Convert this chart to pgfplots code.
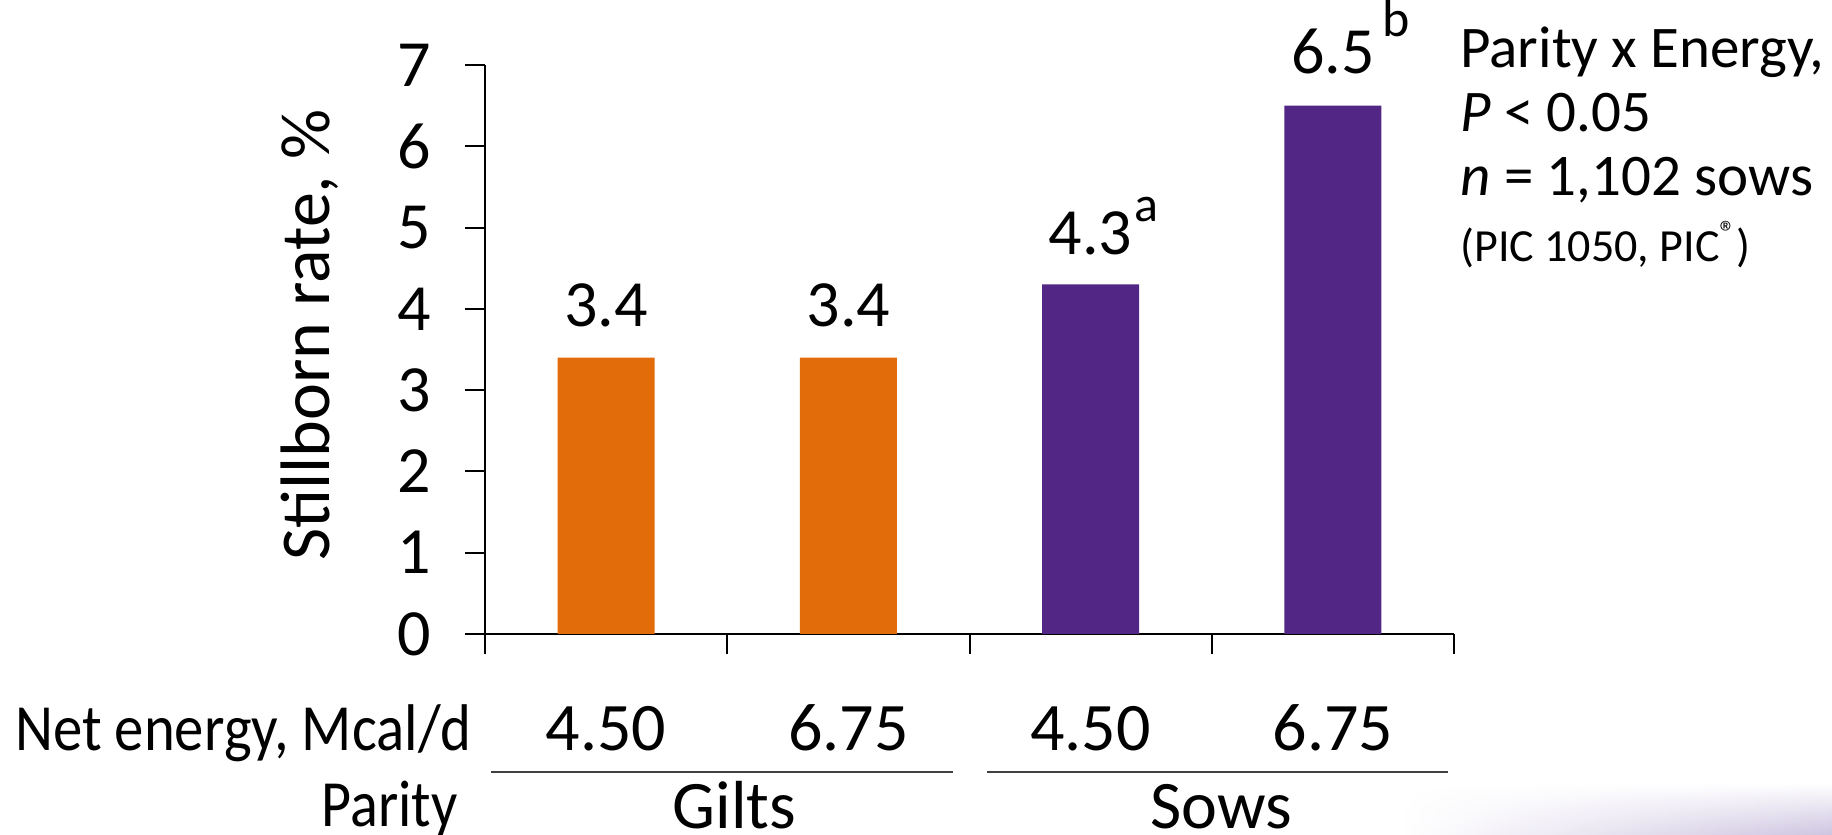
\documentclass[border=0pt]{standalone}
\usepackage{fontspec}
\setmainfont{Carlito}
\usepackage{pgfplots}
\pgfplotsset{compat=1.18}
\usetikzlibrary{fadings}
\definecolor{barorange}{RGB}{227,108,10}
\definecolor{barpurple}{RGB}{81,38,132}
\newcommand{\fs}[1]{\fontsize{#1}{#1}\selectfont}
\begin{document}
\begin{tikzpicture}
\useasboundingbox (0,0) rectangle (916pt,417.5pt);
% faint slide shading bottom right
\shade[left color=white, right color={rgb,255:red,205;green,196;blue,224}, path fading=north]
  (700pt,0pt) rectangle (916pt,26pt);
\begin{axis}[
  at={(242.5pt,100.5pt)}, anchor=south west,
  width=484.5pt, height=284.5pt, scale only axis,
  xmin=0, xmax=4, ymin=0, ymax=7,
  axis x line=bottom, axis y line=left,
  axis line style={-, line width=1pt, black},
  xtick={0,1,2,3,4}, xticklabels={},
  ytick={0,1,2,3,4,5,6,7},
  tick align=outside,
  major tick length=10pt,
  tick style={line width=1pt, black},
  /pgf/number format/assume math mode=true,
  yticklabel style={font=\fs{33}, anchor=east, inner sep=0pt, xshift=-17pt},
  ybar, bar width=48.5pt, bar shift=0pt,
  clip=false,
]
\addplot[fill=barorange, draw=none] coordinates {(0.5,3.4) (1.5,3.4)};
\addplot[fill=barpurple, draw=none] coordinates {(2.5,4.3) (3.5,6.5)};
% value labels
\node[anchor=base, font=\fs{33}, inner sep=0pt, yshift=15.5pt] at (axis cs:0.5,3.4) {3.4};
\node[anchor=base, font=\fs{33}, inner sep=0pt, yshift=15.5pt] at (axis cs:1.5,3.4) {3.4};
\node[anchor=base, font=\fs{33}, inner sep=0pt, yshift=15pt] at (axis cs:2.5,4.3) {4.3\rlap{\hspace{1pt}\raisebox{16.5pt}{\fs{25}a}}};
\node[anchor=base, font=\fs{33}, inner sep=0pt, yshift=16pt] at (axis cs:3.5,6.5) {6.5\rlap{\hspace{4pt}\raisebox{18.5pt}{\fs{26}b}}};
% category labels
\node[anchor=base, font=\fs{34}, inner sep=0pt, yshift=-58pt] at (axis cs:0.5,0) {4.50};
\node[anchor=base, font=\fs{34}, inner sep=0pt, yshift=-58pt] at (axis cs:1.5,0) {6.75};
\node[anchor=base, font=\fs{34}, inner sep=0pt, yshift=-58pt] at (axis cs:2.5,0) {4.50};
\node[anchor=base, font=\fs{34}, inner sep=0pt, yshift=-58pt] at (axis cs:3.5,0) {6.75};
\draw[line width=1pt, black!75] ([yshift=-69pt]axis cs:0.025,0) -- ([yshift=-69pt]axis cs:1.932,0);
\draw[line width=1pt, black!75] ([yshift=-69pt]axis cs:2.072,0) -- ([yshift=-69pt]axis cs:3.975,0);
\node[anchor=base, font=\fs{34}, inner sep=0pt, yshift=-97pt] at (axis cs:1.03,0) {Gilts};
\node[anchor=base, font=\fs{34}, inner sep=0pt, yshift=-97pt] at (axis cs:3.04,0) {Sows};
\end{axis}
% y label
\node[rotate=90, anchor=base, font=\fs{35}, inner sep=0pt] at (164.5pt,250pt) {Stillborn rate, \%};
% row headers
\node[anchor=base east, inner sep=0pt] at (236pt,42pt) {\scalebox{0.89}[1]{\fs{33}Net energy, Mcal/d}};
\node[anchor=base east, inner sep=0pt] at (229pt,4pt) {\scalebox{0.88}[1]{\fs{33}Parity}};
% right annotation
\node[anchor=base west, inner sep=0pt, font=\fs{29.5}] at (730pt,383.5pt) {Parity x Energy,};
\node[anchor=base west, inner sep=0pt, font=\fs{29.5}] at (730pt,351.5pt) {\textit{P} < 0.05};
\node[anchor=base west, inner sep=0pt, font=\fs{29.5}] at (730pt,319.5pt) {\textit{n} = 1,102 sows};
\node[anchor=base west, inner sep=0pt, font=\fs{23}] at (730pt,286.5pt) {(PIC 1050, PIC\textsuperscript{®})};
\end{tikzpicture}
\end{document}
